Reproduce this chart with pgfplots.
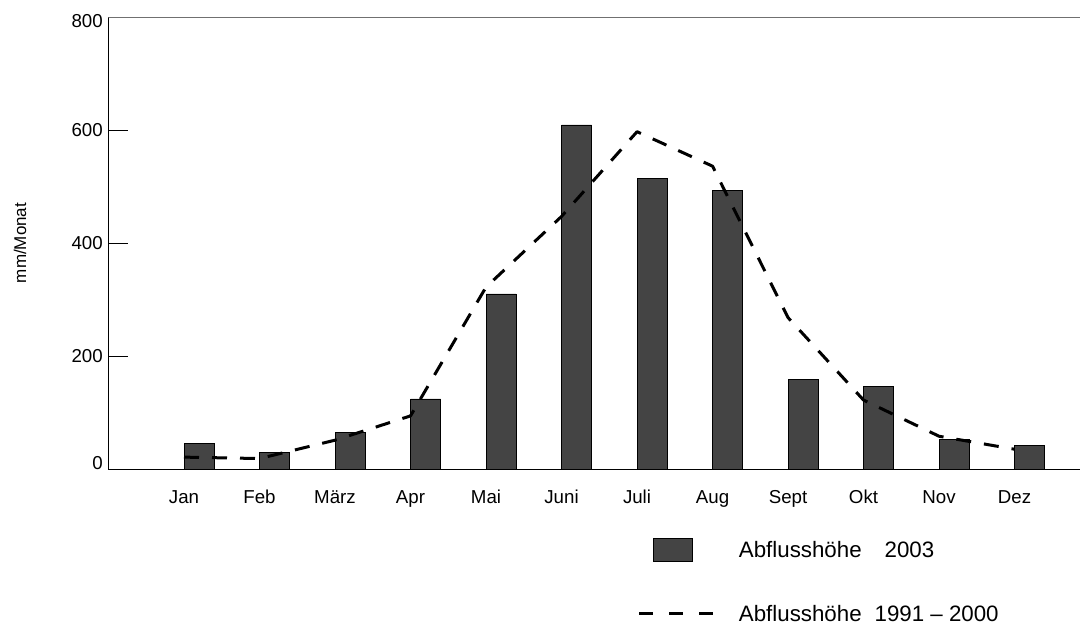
\documentclass[border=0pt]{standalone}
\usepackage{fontspec}
\setmainfont{Liberation Sans}
\usepackage{pgfplots}
\pgfplotsset{compat=1.18}
\definecolor{barc}{HTML}{444444}
\definecolor{topc}{HTML}{707070}

\begin{document}
\begin{tikzpicture}
\useasboundingbox (0,0) rectangle (1080pt,625pt);
\begin{axis}[
    at={(108.5pt,156pt)}, anchor=south west,
    scale only axis, width=974pt, height=452pt,
    xmin=0, xmax=12.9, ymin=0, ymax=800,
    axis lines*=left,
    axis line style={black, line width=0.8pt},
    xtick=\empty,
    minor xtick={0.5,1.5,...,12.5},
    extra x ticks={1,...,12},
    extra x tick labels={Jan,Feb,März,Apr,Mai,Juni,Juli,Aug,Sept,Okt,Nov,Dez},
    extra x tick style={major tick length=0pt},
    ytick={0,200,...,800},
    yticklabels={\raisebox{5.5pt}[\height][\depth]{0},200,400,600,\raisebox{-4.5pt}[\height][\depth]{800}},
    tick align=inside,
    major tick length=20pt,
    minor tick length=4.5pt,
    tick style={black, line width=0.8pt},
    /pgf/number format/assume math mode=true,
    xticklabel style={font=\fontsize{18.7}{22}\selectfont, anchor=north, inner sep=0pt, yshift=-21pt},
    yticklabel style={font=\fontsize{18.7}{22}\selectfont, anchor=east, inner sep=0pt, xshift=-5.5pt},
    ylabel={mm/Monat},
    ylabel style={font=\fontsize{17}{20}\selectfont, at={(axis description cs:-0.0909,0.5)}, anchor=center},
    legend cell align=left,
    legend style={draw=none, fill=none,
        at={(axis description cs:0.5436,-0.1527)}, anchor=north west,
        inner sep=0pt, outer sep=0pt, row sep=43.5pt, column sep=24pt,
        font=\fontsize{22.3}{26}\selectfont, nodes={inner sep=0pt}},
]
% empty first series (zero bars on the baseline)
\addplot[ybar, bar width=30pt, bar shift=-15pt, draw=black, line width=0.6pt, fill=barc, forget plot]
    coordinates {(1,0) (2,0) (3,0) (4,0) (5,0) (6,0) (7,0) (8,0) (9,0) (10,0) (11,0) (12,0)};
% Abflusshoehe 2003
\addplot[ybar, bar width=30pt, bar shift=15pt, draw=black, line width=0.6pt, fill=barc,
    legend image code/.code={
        \draw[draw=black, fill=barc, line width=0.6pt] (14pt,-11.5pt) rectangle (53pt,11.5pt);
        \path[draw=none, fill=none] (0pt,0pt) -- (74pt,0pt);}]
    coordinates {(1,46) (2,30) (3,65) (4,124) (5,310) (6,609) (7,514) (8,493) (9,159) (10,146) (11,52) (12,42)};
\addlegendentry{Abflusshöhe\hspace{23pt}2003}
% Abflusshoehe 1991-2000
\addplot[black, line width=3pt, dash pattern=on 15pt off 13pt, line join=round,
    legend image code/.code={\draw[black, line width=3pt, dash pattern=on 14pt off 16pt] (0pt,0pt) -- (74pt,0pt);}]
    coordinates {(1,21) (2,18.5) (3,51) (4,94) (5,322) (6,447) (7,597) (8,536) (9,268) (10,122) (11,58) (12,35)};
\addlegendentry{Abflusshöhe\hspace{13pt}1991 – 2000}
\draw[topc, line width=1.6pt] (rel axis cs:0,1) -- (rel axis cs:1,1);
\end{axis}
\end{tikzpicture}
\end{document}
